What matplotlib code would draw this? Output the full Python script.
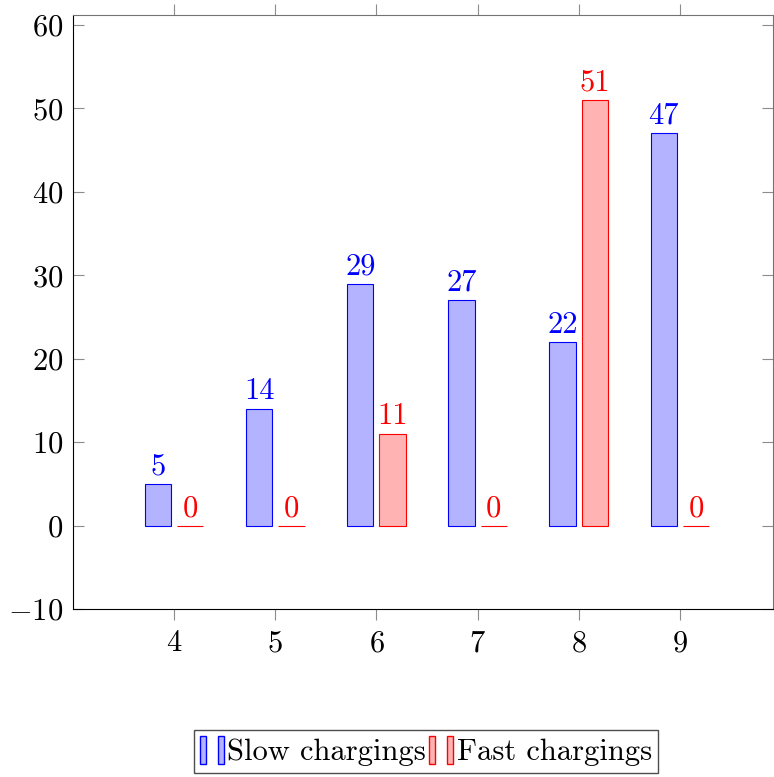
import matplotlib.pyplot as plt
from matplotlib.patches import Rectangle
from matplotlib.legend_handler import HandlerTuple
import numpy as np

plt.rcParams['font.family'] = ['cmr10', 'DejaVu Serif']
plt.rcParams['mathtext.fontset'] = 'cm'
plt.rcParams['axes.formatter.use_mathtext'] = True

# data
categories = [4, 5, 6, 7, 8, 9]
slow = [5, 14, 29, 27, 22, 47]
fast = [0, 0, 11, 0, 51, 0]

blue, blue_fill = (0, 0, 1), (0.7, 0.7, 1)
red, red_fill = (1, 0, 0), (1, 0.7, 0.7)

fig = plt.figure(figsize=(7.74, 7.77), dpi=100)
ax = fig.add_axes([0.0943, 0.2162, 0.9044, 0.7645])

x = np.array(categories)
w = 0.26
off = 0.16
b1 = ax.bar(x - off, slow, w, color=blue_fill, edgecolor=blue, linewidth=0.8)
b2 = ax.bar(x + off, fast, w, color=red_fill, edgecolor=red, linewidth=0.8)

for xi, v in zip(x, slow):
    ax.annotate(str(v), (xi - off, v), xytext=(0, 2.5), textcoords='offset points',
                ha='center', va='bottom', color=blue, fontsize=22)
for xi, v in zip(x, fast):
    ax.annotate(str(v), (xi + off, v), xytext=(0, 2.5), textcoords='offset points',
                ha='center', va='bottom', color=red, fontsize=22)

ax.set_xlim(3.0, 9.92)
ax.set_ylim(-10, 61.2)
ax.set_xticks(categories)
ax.set_yticks(range(-10, 61, 10))
ax.tick_params(axis='x', direction='out', length=8, color='0.55', labelsize=22,
               top=True, pad=7)
ax.tick_params(axis='y', direction='in', length=8, color='0.55', labelsize=22,
               right=True, pad=7)
ax.spines['top'].set_color('0.45')
ax.spines['right'].set_color('0.45')

h1 = (Rectangle((0, 0), 1, 1, facecolor=blue_fill, edgecolor=blue),
      Rectangle((0, 0), 1, 1, facecolor=blue_fill, edgecolor=blue))
h2 = (Rectangle((0, 0), 1, 1, facecolor=red_fill, edgecolor=red),
      Rectangle((0, 0), 1, 1, facecolor=red_fill, edgecolor=red))
fig.legend([h1, h2], ['Slow chargings', 'Fast chargings'],
           handler_map={tuple: HandlerTuple(ndivide=None, pad=0.4)},
           loc='center', bbox_to_anchor=(0.55, 0.033), ncol=2, fontsize=22,
           fancybox=False, edgecolor='0.3', framealpha=1,
           handlelength=0.8, handleheight=1.0, handletextpad=0.1,
           columnspacing=0.1, borderpad=0.2, borderaxespad=0)

fig.savefig('out.png', dpi=100)
